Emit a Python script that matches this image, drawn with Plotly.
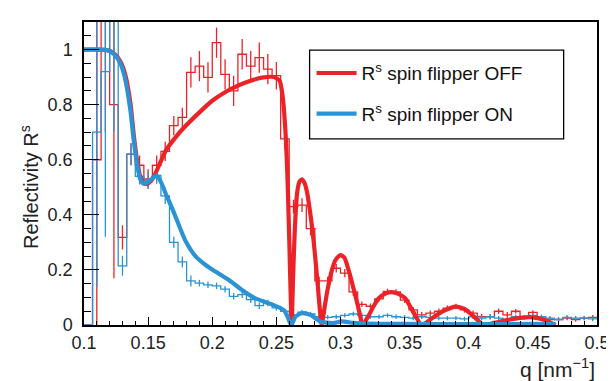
import plotly.graph_objects as go

# ---------------- data ----------------
Q_MIN, Q_MAX, N_BINS = 0.1, 0.5, 60

off_data = [0.0, 0.60, 1.30, 0.80, 0.318, 0.62, 0.58, 0.53, 0.58, 0.63,
            0.724, 0.754, 0.917, 0.94, 0.899, 1.025, 0.91, 0.85, 0.983, 0.94,
            0.971, 0.929, 0.905, 0.676, 0.43, 0.435, 0.35, 0.16, 0.16, 0.206,
            0.188, 0.12, 0.075, 0.068, 0.095, 0.122, 0.12, 0.09, 0.055, 0.037,
            0.043, 0.05, 0.061, 0.067, 0.055, 0.043, 0.03, 0.03, 0.05, 0.037,
            0.05, 0.028, 0.046, 0.025, 0.02, 0.02, 0.025, 0.02, 0.025, 0.028]
off_err = [0.0, 0.70, 0.60, 0.63, 0.044, 0.04, 0.035, 0.035, 0.035, 0.035,
           0.035, 0.035, 0.055, 0.055, 0.055, 0.055, 0.055, 0.055, 0.055, 0.055,
           0.055, 0.055, 0.05, 0.04, 0.025, 0.025, 0.025, 0.015, 0.015, 0.015,
           0.015, 0.015, 0.01, 0.01, 0.01, 0.01, 0.01, 0.01, 0.01, 0.01,
           0.01, 0.01, 0.01, 0.01, 0.01, 0.01, 0.01, 0.01, 0.01, 0.01,
           0.008, 0.008, 0.008, 0.008, 0.008, 0.008, 0.008, 0.008, 0.008, 0.008]

on_data = [0.0, 0.70, 0.92, 1.30, 0.215, 0.62, 0.54, 0.525, 0.543, 0.469,
           0.30, 0.229, 0.16, 0.152, 0.146, 0.142, 0.13, 0.104, 0.11, 0.092,
           0.07, 0.08, 0.062, 0.05, 0.037, 0.047, 0.04, 0.03, 0.028, 0.03,
           0.035, 0.04, 0.035, 0.03, 0.03, 0.035, 0.03, 0.028, 0.025, 0.03,
           0.028, 0.025, 0.025, 0.025, 0.022, 0.03, 0.025, 0.03, 0.025, 0.02,
           0.03, 0.028, 0.035, 0.03, 0.025, 0.02, 0.028, 0.025, 0.025, 0.022]
on_err = [0.0, 0.56, 0.60, 0.60, 0.036, 0.04, 0.03, 0.03, 0.03, 0.03,
          0.02, 0.02, 0.02, 0.012, 0.012, 0.012, 0.012, 0.012, 0.012, 0.012,
          0.012, 0.012, 0.01, 0.01, 0.008, 0.008, 0.008, 0.008, 0.008, 0.008,
          0.008, 0.008, 0.008, 0.008, 0.008, 0.008, 0.008, 0.008, 0.008, 0.008,
          0.008, 0.008, 0.008, 0.008, 0.008, 0.008, 0.008, 0.008, 0.008, 0.008,
          0.008, 0.008, 0.008, 0.008, 0.008, 0.008, 0.008, 0.008, 0.008, 0.008]

fit_off_q = [0.100, 0.110, 0.118, 0.1235, 0.1286, 0.1324, 0.1362, 0.1388, 0.1413,
             0.1438, 0.1464, 0.149, 0.152, 0.155, 0.159, 0.164, 0.172, 0.1795,
             0.19, 0.20, 0.21, 0.22, 0.23, 0.24, 0.248, 0.2525, 0.2548, 0.2568,
             0.2586, 0.2601, 0.2612, 0.2619,
             0.2630, 0.2645, 0.2662, 0.2680, 0.2700, 0.2720, 0.2740, 0.2760,
             0.2780, 0.2800, 0.2820, 0.2840, 0.2853,
             0.2879, 0.2900, 0.2930, 0.2960, 0.2999, 0.3030, 0.3070, 0.3100,
             0.3134, 0.3155, 0.3172,
             0.3223, 0.3260, 0.3300, 0.3350, 0.3401, 0.3450, 0.3503, 0.3540,
             0.3580, 0.3631,
             0.3733, 0.3800, 0.3899, 0.3970, 0.4039, 0.4115,
             0.4200, 0.4300, 0.4400, 0.4500, 0.4580, 0.4676]
fit_off_r = [1.0, 1.0, 0.998, 0.985, 0.955, 0.905, 0.805, 0.69, 0.60,
             0.54, 0.515, 0.513, 0.522, 0.543, 0.585, 0.635, 0.685, 0.724,
             0.772, 0.814, 0.845, 0.869, 0.887, 0.899, 0.90, 0.887, 0.833, 0.724,
             0.543, 0.30, 0.10, 0.0,
             0.17, 0.36, 0.48, 0.52, 0.529, 0.515, 0.48, 0.42,
             0.35, 0.26, 0.16, 0.05, 0.0,
             0.073, 0.13, 0.194, 0.235, 0.254, 0.245, 0.188, 0.135,
             0.073, 0.03, 0.0,
             0.037, 0.07, 0.098, 0.114, 0.119, 0.113, 0.098, 0.07,
             0.037, 0.0,
             0.031, 0.05, 0.067, 0.058, 0.031, 0.0,
             0.008, 0.018, 0.026, 0.028, 0.02, 0.0]

fit_on_q = [0.100, 0.110, 0.118, 0.1235, 0.1286, 0.1324, 0.1362, 0.1388, 0.1413,
            0.1438, 0.1464, 0.149, 0.152, 0.1566, 0.1604, 0.1642, 0.1693, 0.1719,
            0.1795, 0.1872, 0.1948, 0.2025, 0.2127, 0.2229, 0.2331, 0.2433,
            0.2535, 0.2565, 0.2586, 0.2616, 0.2650, 0.2700, 0.2765, 0.2840,
            0.2940, 0.3010, 0.3100, 0.3220, 0.3500, 0.4000, 0.4500, 0.4676]
fit_on_r = [1.0, 1.0, 0.998, 0.983, 0.947, 0.887, 0.778, 0.67, 0.586,
            0.53, 0.513, 0.516, 0.527, 0.543, 0.515, 0.471, 0.417, 0.387,
            0.302, 0.248, 0.218, 0.194, 0.164, 0.128, 0.098, 0.08,
            0.061, 0.05, 0.031, 0.0, 0.031, 0.043, 0.037, 0.013,
            0.007, 0.013, 0.008, 0.005, 0.004, 0.003, 0.004, 0.003]

x_ticks = [0.1, 0.15, 0.2, 0.25, 0.3, 0.35, 0.4, 0.45, 0.5]
x_tick_text = ["0.1", "0.15", "0.2", "0.25", "0.3", "0.35", "0.4", "0.45", "0.5"]
y_ticks = [0, 0.2, 0.4, 0.6, 0.8, 1.0]
y_tick_text = ["0", "0.2", "0.4", "0.6", "0.8", "1"]

label_off = "R<sup>s</sup> spin flipper OFF"
label_on = "R<sup>s</sup> spin flipper ON"

# ---------------- styling ----------------
RED = "#eb2328"
BLUE = "#2a93d5"
FONT = "Liberation Sans, Arial, sans-serif"

width_bin = (Q_MAX - Q_MIN) / N_BINS
edges = [Q_MIN + i * width_bin for i in range(N_BINS + 1)]
centers = [Q_MIN + (i + 0.5) * width_bin for i in range(N_BINS)]

fig = go.Figure()


def add_hist(values, errors, color, name):
    fig.add_trace(go.Scatter(
        x=edges, y=list(values) + [values[-1]], mode="lines",
        line=dict(color=color, width=1.3, shape="hv"),
        showlegend=False, hoverinfo="skip", name=name + " data"))
    fig.add_trace(go.Scatter(
        x=centers, y=values, mode="markers",
        marker=dict(size=1, color=color),
        error_y=dict(type="data", array=errors, width=0, thickness=1.3, color=color),
        showlegend=False, name=name + " errors"))


add_hist(off_data, off_err, RED, "OFF")
add_hist(on_data, on_err, BLUE, "ON")

fig.add_trace(go.Scatter(x=fit_off_q, y=fit_off_r, mode="lines",
                         line=dict(color=RED, width=4.2, shape="spline", smoothing=0.6),
                         name=label_off, legendgroup="a"))
fig.add_trace(go.Scatter(x=fit_on_q, y=fit_on_r, mode="lines",
                         line=dict(color=BLUE, width=4.2, shape="spline", smoothing=0.6),
                         name=label_on, legendgroup="b"))

axis_common = dict(showline=True, linecolor="black", linewidth=1.5, mirror=True,
                   ticks="inside", tickcolor="black", showgrid=False, zeroline=False,
                   tickfont=dict(family=FONT, size=18, color="#222"))

fig.update_xaxes(range=[Q_MIN, Q_MAX], tickvals=x_ticks, ticktext=x_tick_text,
                 ticklen=8, tickwidth=1.3, ticklabelstandoff=1,
                 minor=dict(dtick=0.01, tick0=0.1, ticklen=4, ticks="inside",
                            tickcolor="black", tickwidth=1.2),
                 **axis_common)
fig.update_yaxes(range=[0, 1.1], tickvals=y_ticks, ticktext=y_tick_text,
                 ticklen=15, tickwidth=1.3, ticklabelstandoff=6,
                 minor=dict(dtick=0.05, tick0=0, ticklen=7, ticks="inside",
                            tickcolor="black", tickwidth=1.2),
                 **axis_common)

# y-axis title placed like the reference (centred a little below the plot middle)
fig.add_annotation(text="Reflectivity R<sup>s</sup>", xref="paper", yref="paper",
                   x=-0.078, y=(317 - 178) / 304, xanchor="right", yanchor="middle",
                   textangle=-90, showarrow=False,
                   font=dict(family=FONT, size=20, color="#222"))

fig.add_annotation(text="q [nm<sup>−1</sup>]", xref="paper", yref="paper",
                   x=1.0, y=-(375 - 317) / 304, xanchor="right", yanchor="bottom",
                   showarrow=False, font=dict(family=FONT, size=21, color="#222"))

# legend frame
fig.add_shape(type="rect", xref="paper", yref="paper",
              x0=(306 - 76) / 523, x1=(565 - 76) / 523,
              y0=(317 - 130) / 304.3, y1=(317 - 41) / 304.3,
              line=dict(color="black", width=1.3), fillcolor="white", layer="below")

fig.update_layout(
    width=614, height=381,
    margin=dict(l=76, r=15, t=13, b=64),
    paper_bgcolor="white", plot_bgcolor="white",
    showlegend=True,
    legend=dict(x=(308 - 76) / 523, y=(317 - 45) / 304.3, xanchor="left", yanchor="top",
                bgcolor="rgba(0,0,0,0)", borderwidth=0, tracegroupgap=13,
                itemwidth=40, font=dict(family=FONT, size=19, color="#111")),
)

fig.write_html("out.html")
